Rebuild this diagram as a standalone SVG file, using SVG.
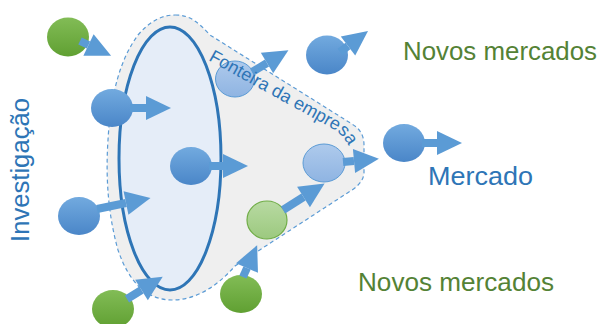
<svg xmlns="http://www.w3.org/2000/svg" width="601" height="324" viewBox="0 0 601 324">
<style>
.lbl{font-family:"Liberation Sans",Arial,sans-serif;}
.blue-t{fill:#2E75B6;}
.green-t{fill:#548235;}
.bc{fill:url(#gBlue);}
.gc{fill:url(#gGreen);}
.lb{fill:url(#gLBlue);stroke:#5B9BD5;stroke-width:1;}
.lg{fill:url(#gLGreen);stroke:#70AD47;stroke-width:1.2;}
.arr{stroke:#5B9BD5;stroke-width:8;fill:none;marker-end:url(#ah);}
</style>
<defs>
<linearGradient id="gBlue" x1="0" y1="0" x2="0" y2="1">
<stop offset="0" stop-color="#72AADF"/><stop offset="1" stop-color="#4A86C8"/>
</linearGradient>
<linearGradient id="gGreen" x1="0" y1="0" x2="0" y2="1">
<stop offset="0" stop-color="#82BC56"/><stop offset="1" stop-color="#60A032"/>
</linearGradient>
<linearGradient id="gLBlue" x1="0" y1="0" x2="0" y2="1">
<stop offset="0" stop-color="#AECAEC"/><stop offset="1" stop-color="#8FB4E2"/>
</linearGradient>
<linearGradient id="gLGreen" x1="0" y1="0" x2="0" y2="1">
<stop offset="0" stop-color="#B8DAA2"/><stop offset="1" stop-color="#9CC97F"/>
</linearGradient>
<marker id="ah" markerUnits="userSpaceOnUse" markerWidth="26" markerHeight="24" refX="0" refY="12" orient="auto" overflow="visible">
<path d="M0,0 L25,12 L0,24 Z" fill="#5B9BD5"/>
</marker>
<path id="tp" d="M 208,60 L 333,129 Q 349,138 355,164"/>
</defs>

<g id="fronteira">
<path d="M 175,15 C 190,15 198,22 210,35 L 352,124 Q 364,131 364,145 L 364,172 Q 364,182 352,190 L 235,266 Q 205,300 172,300 Q 135,300 118,250 Q 104,200 108,140 Q 112,70 138,35 Q 155,15 175,15 Z" fill="#EFEFEF" stroke="#5B9BD5" stroke-width="1.2" stroke-dasharray="4,3"/>
</g>
<g id="investigacao-elipse">
<ellipse cx="170" cy="158.5" rx="51" ry="131.5" fill="#E5EDF8" stroke="#2E75B6" stroke-width="3"/>
</g>

<g id="n1"><ellipse class="gc" cx="68" cy="37" rx="21" ry="19.5"/></g>
<g id="n2"><ellipse class="bc" cx="112" cy="108" rx="21" ry="19"/></g>
<g id="n3"><ellipse class="lb" cx="235" cy="79" rx="19.5" ry="18"/></g>
<g id="n4"><ellipse class="bc" cx="327" cy="55" rx="21" ry="19.5"/></g>
<g id="n5"><ellipse class="bc" cx="404" cy="143" rx="21" ry="19"/></g>
<g id="n6"><ellipse class="lb" cx="324" cy="163" rx="21" ry="19"/></g>
<g id="n7"><ellipse class="bc" cx="191" cy="166" rx="21" ry="19"/></g>
<g id="n8"><ellipse class="bc" cx="79" cy="216" rx="21" ry="19"/></g>
<g id="n9"><ellipse class="lg" cx="267" cy="220" rx="20" ry="19"/></g>
<g id="n10"><ellipse class="gc" cx="113" cy="309" rx="21" ry="19"/></g>
<g id="n11"><ellipse class="gc" cx="241" cy="294" rx="21" ry="19"/></g>

<g id="connectors">
<line class="arr" x1="80" y1="41" x2="88.5" y2="45"/>
<line class="arr" x1="130" y1="108" x2="146" y2="108"/>
<line class="arr" x1="252" y1="72" x2="267" y2="63"/>
<line class="arr" x1="340" y1="52" x2="348" y2="46"/>
<line class="arr" x1="422" y1="143" x2="437" y2="143"/>
<line class="arr" x1="343" y1="162" x2="354" y2="161"/>
<line class="arr" x1="209" y1="166" x2="223" y2="166"/>
<line class="arr" x1="97" y1="209" x2="126" y2="203"/>
<line class="arr" x1="283" y1="210" x2="303.5" y2="197"/>
<line class="arr" x1="127" y1="299" x2="141.5" y2="290"/>
<line class="arr" x1="243" y1="277" x2="247" y2="268"/>
</g>

<g id="labels">
<text class="lbl blue-t" font-size="18"><textPath href="#tp">Fonteira da empresa</textPath></text>
<text class="lbl blue-t" font-size="25" transform="translate(29,242) rotate(-90)" textLength="144" lengthAdjust="spacingAndGlyphs">Investigação</text>
<text class="lbl green-t" x="403" y="60" font-size="25" textLength="194" lengthAdjust="spacingAndGlyphs">Novos mercados</text>
<text class="lbl blue-t" x="428" y="185" font-size="25" textLength="105" lengthAdjust="spacingAndGlyphs">Mercado</text>
<text class="lbl green-t" x="358" y="291" font-size="25" textLength="196" lengthAdjust="spacingAndGlyphs">Novos mercados</text>
</g>
</svg>
